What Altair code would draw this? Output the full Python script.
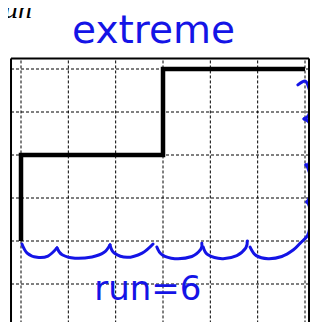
import altair as alt
import pandas as pd

# --- data -------------------------------------------------------------
step_x = [0, 0, 3, 3, 6]
step_y = [0, 2, 2, 4, 4]

grid_x = [0, 1, 2, 3, 4, 5, 6]
grid_y = [-2, -1, 0, 1, 2, 3, 4]

# hand-drawn blue brace strokes (grid units)
brace_segments = {
    "b1": ([0.02, 0.13, 0.34, 0.57, 0.76], [-0.07, -0.28, -0.38, -0.35, -0.16]),
    "b2": ([0.76, 0.87, 1.14, 1.50, 1.75, 1.88], [-0.16, -0.32, -0.40, -0.37, -0.27, -0.09]),
    "b3": ([1.88, 1.97, 2.24, 2.56, 2.79], [-0.09, -0.28, -0.38, -0.28, -0.07]),
    "b4": ([2.87, 2.98, 3.25, 3.61, 3.80, 3.82], [-0.14, -0.32, -0.41, -0.36, -0.19, -0.05]),
    "b5": ([3.85, 3.95, 4.25, 4.56, 4.75, 4.78], [-0.14, -0.32, -0.41, -0.34, -0.16, 0.0]),
    "b6": ([4.84, 4.97, 5.22, 5.51, 5.75, 5.90, 6.05, 6.10], [-0.14, -0.34, -0.41, -0.36, -0.21, -0.05, 0.12, 0.30]),
    "r4": ([6.10, 6.12, 6.09, 6.04], [0.30, 0.60, 0.81, 0.91]),
    "r3": ([6.04, 6.09, 6.12, 6.11, 6.06, 6.02], [0.91, 1.00, 1.23, 1.51, 1.70, 1.77]),
    "r2": ([6.02, 6.08, 6.13, 6.14, 6.11, 5.98], [1.77, 1.79, 2.00, 2.40, 2.72, 2.84]),
    "r1": ([5.98, 6.07, 6.12, 6.12, 6.07, 6.00, 5.85], [2.84, 2.91, 3.09, 3.37, 3.60, 3.72, 3.63]),
}

labels = ["un", "extreme", "run=6"]
label_x = [0.232, 2.80, 2.68]
label_y = [5.186, 4.60, -1.37]

# --- frame extents (grid units) --------------------------------------
LEFT, RIGHT, TOP, BOTTOM = -0.211, 6.085, 4.244, -2.15
BLUE = "#1414e6"

xs = alt.Scale(domain=[0, 6], range=[13, 297], nice=False, zero=False)
ys = alt.Scale(domain=[0, 4], range=[233, 61], nice=False, zero=False)

def X(f="x"):
    return alt.X(f"{f}:Q", scale=xs, axis=None)

def Y(f="y"):
    return alt.Y(f"{f}:Q", scale=ys, axis=None)

vgrid = pd.DataFrame({"x": grid_x, "y": [BOTTOM] * len(grid_x), "y2": [TOP] * len(grid_x)})
hgrid = pd.DataFrame({"y": grid_y, "x": [LEFT] * len(grid_y), "x2": [RIGHT] * len(grid_y)})

vrules = alt.Chart(vgrid).mark_rule(color="black", strokeWidth=1, strokeDash=[3, 2]).encode(
    x=X(), y=Y(), y2="y2:Q")
hrules = alt.Chart(hgrid).mark_rule(color="black", strokeWidth=1, strokeDash=[3, 2]).encode(
    y=Y(), x=X(), x2="x2:Q")

frame_v = pd.DataFrame({"x": [LEFT, RIGHT], "y": [BOTTOM, BOTTOM], "y2": [TOP, TOP]})
frame_h = pd.DataFrame({"y": [TOP], "x": [LEFT], "x2": [RIGHT]})
fv = alt.Chart(frame_v).mark_rule(color="black", strokeWidth=2).encode(x=X(), y=Y(), y2="y2:Q")
fh = alt.Chart(frame_h).mark_rule(color="black", strokeWidth=2).encode(y=Y(), x=X(), x2="x2:Q")

step_df = pd.DataFrame({"x": step_x, "y": step_y, "o": list(range(len(step_x)))})
step = alt.Chart(step_df).mark_line(color="black", strokeWidth=4.5, strokeCap="butt",
                                    strokeJoin="miter").encode(x=X(), y=Y(), order="o:Q")

rows = []
for seg, (bx, by) in brace_segments.items():
    for i, (a, b) in enumerate(zip(bx, by)):
        rows.append({"seg": seg, "o": i, "x": a, "y": b})
brace_df = pd.DataFrame(rows)
brace = alt.Chart(brace_df).mark_line(color=BLUE, strokeWidth=3, strokeCap="round",
                                      strokeJoin="round", interpolate="cardinal").encode(
    x=X(), y=Y(), detail="seg:N", order="o:Q")

t_un = alt.Chart(pd.DataFrame({"t": [labels[0]], "x": [label_x[0]], "y": [label_y[0]]})).mark_text(
    font="Liberation Serif", fontStyle="italic", fontSize=28, align="right", baseline="alphabetic",
    color="black").encode(x=X(), y=Y(), text="t:N")
t_ext = alt.Chart(pd.DataFrame({"t": [labels[1]], "x": [label_x[1]], "y": [label_y[1]]})).mark_text(
    font="DejaVu Sans", fontSize=39, align="center", baseline="alphabetic",
    color=BLUE).encode(x=X(), y=Y(), text="t:N")
t_run = alt.Chart(pd.DataFrame({"t": [labels[2]], "x": [label_x[2]], "y": [label_y[2]]})).mark_text(
    font="DejaVu Sans", fontSize=34, align="center", baseline="alphabetic",
    color=BLUE).encode(x=X(), y=Y(), text="t:N")

chart = alt.layer(vrules, hrules, step, brace, fv, fh, t_un, t_ext, t_run).properties(
    width=302, height=314, autosize=alt.AutoSizeParams(type="none"), padding=0
).configure_view(strokeWidth=0)

chart.save("out.html", embed_options={"renderer": "svg", "actions": False})
